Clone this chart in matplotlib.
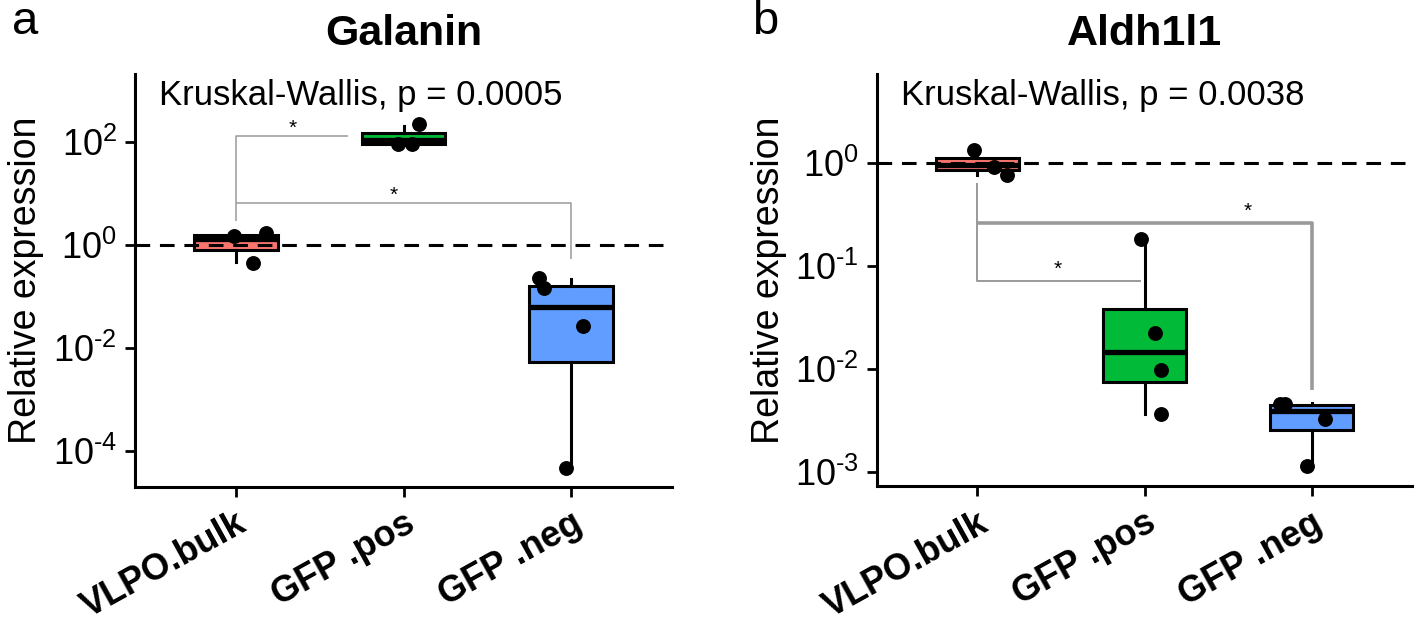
import matplotlib
matplotlib.use("Agg")
import matplotlib.pyplot as plt
import numpy as np

plt.rcParams["font.family"] = ["Liberation Sans", "DejaVu Sans"]
plt.rcParams["mathtext.fontset"] = "custom"
plt.rcParams["mathtext.rm"] = "Liberation Sans"
plt.rcParams["mathtext.it"] = "Liberation Sans"
plt.rcParams["mathtext.bf"] = "Liberation Sans:bold"

groups = ["VLPO.bulk", "GFP .pos", "GFP .neg"]
colors = ["#F8766D", "#00BA38", "#619CFF"]

# all values below are log10(relative expression)
gal_q1 = [-0.10, 1.96, -2.28]
gal_med = [0.12, 2.05, -1.21]
gal_q3 = [0.195, 2.19, -0.79]
gal_lo = [-0.33, 1.95, -4.34]
gal_hi = [0.23, 2.32, -0.67]
gal_pts = [[0.175, 0.23, -0.345], [2.35, 1.96, 1.96], [-0.64, -0.83, -1.58, -4.34]]
gal_jit = [[-0.01, 0.18, 0.105], [0.095, -0.03, 0.05], [-0.195, -0.16, 0.07, -0.03]]

ald_q1 = [-0.07, -2.13, -2.60]
ald_med = [-0.02, -1.84, -2.415]
ald_q3 = [0.045, -1.42, -2.35]
ald_lo = [-0.12, -2.44, -2.96]
ald_hi = [0.12, -0.74, -2.33]
ald_pts = [[0.12, -0.04, -0.12], [-0.74, -1.655, -2.01, -2.44], [-2.34, -2.34, -2.49, -2.95]]
ald_jit = [[-0.02, 0.10, 0.18], [-0.02, 0.06, 0.10, 0.10], [-0.19, -0.16, 0.08, -0.03]]

# brackets: path points (x, log10 y), star position, line width
gal_brackets = [
    ([(0, 0.47), (0, 2.13), (0.67, 2.13)], (0.34, 2.27), 1.1),
    ([(0, 0.81), (2, 0.81), (2, -0.28)], (0.94, 0.97), 1.1),
]
ald_brackets = [
    ([(0, -0.20), (0, -1.15), (0.98, -1.15)], (0.48, -1.04), 1.4),
    ([(0, -0.59), (2, -0.59), (2, -2.21)], (1.62, -0.47), 2.6),
]

W, H = 1418, 627
fig = plt.figure(figsize=(W / 100, H / 100), dpi=100)


def px_axes(l, r, t, b):
    return fig.add_axes([l / W, 1 - b / H, (r - l) / W, (b - t) / H])


def panel(ax, title, q1, med, q3, lo, hi, pts, jit, brackets, ylim, yticks, ptext):
    ax.set_yscale("log")
    stats = []
    for i in range(3):
        stats.append(dict(q1=10 ** q1[i], med=10 ** med[i], q3=10 ** q3[i],
                          whislo=10 ** lo[i], whishi=10 ** hi[i], fliers=[]))
    bp = ax.bxp(stats, positions=range(3), widths=0.5, patch_artist=True,
                showcaps=False,
                boxprops=dict(edgecolor="black", linewidth=2.2),
                whiskerprops=dict(color="black", linewidth=2.2),
                medianprops=dict(color="black", linewidth=3.8))
    for patch, c in zip(bp["boxes"], colors):
        patch.set_facecolor(c)
        patch.set_zorder(2)
    # the dashed reference line is drawn over the boxes in the original
    ax.axhline(1, color="black", lw=2.2, ls=(0, (4.8, 3.2)), zorder=3)
    for i in range(3):
        xs = [i + j for j in jit[i]]
        ax.scatter(xs, [10 ** v for v in pts[i]], s=115, color="black", zorder=4,
                   linewidths=0)
    for path, star, lw in brackets:
        ax.plot([p[0] for p in path], [10 ** p[1] for p in path], color="#9a9a9a",
                lw=lw, zorder=1.5, solid_capstyle="butt")
        ax.text(star[0], 10 ** star[1], "*", ha="center", va="center", fontsize=15)
    ax.set_xlim(-0.6, 2.6)
    ax.set_ylim(10 ** ylim[0], 10 ** ylim[1])
    ax.set_yticks([10.0 ** k for k in yticks])
    ax.set_yticklabels([r"$10^{\text{%d}}$" % k for k in yticks])
    ax.minorticks_off()
    ax.set_xticks(range(3))
    ax.set_xticklabels(groups, rotation=29, ha="right", va="top",
                       rotation_mode="anchor", fontweight="bold", fontsize=26)
    ax.tick_params(axis="y", labelsize=26, length=7, width=2, pad=6)
    ax.tick_params(axis="x", length=7, width=2, pad=7)
    for s in ["top", "right"]:
        ax.spines[s].set_visible(False)
    for s in ["left", "bottom"]:
        ax.spines[s].set_linewidth(2.2)
    ax.set_ylabel("Relative expression", fontsize=27, labelpad=6)
    ax.set_title(title, fontsize=31, fontweight="bold", pad=21)
    ax.text(0.045, 0.925, ptext, transform=ax.transAxes, fontsize=25,
            va="baseline", ha="left")


ax1 = px_axes(135, 672, 74, 486.5)
panel(ax1, "Galanin", gal_q1, gal_med, gal_q3, gal_lo, gal_hi, gal_pts, gal_jit,
      gal_brackets, (-4.70, 3.33), [-4, -2, 0, 2], "Kruskal-Wallis, p = 0.0005")

ax2 = px_axes(877, 1412, 74, 486)
panel(ax2, "Aldh1l1", ald_q1, ald_med, ald_q3, ald_lo, ald_hi, ald_pts, ald_jit,
      ald_brackets, (-3.14, 0.86), [-3, -2, -1, 0], "Kruskal-Wallis, p = 0.0038")

fig.text(12 / W, 1 - 34 / H, "a", fontsize=34, va="baseline", ha="left")
fig.text(752 / W, 1 - 34 / H, "b", fontsize=34, va="baseline", ha="left")

fig.savefig("out.png", dpi=100)
